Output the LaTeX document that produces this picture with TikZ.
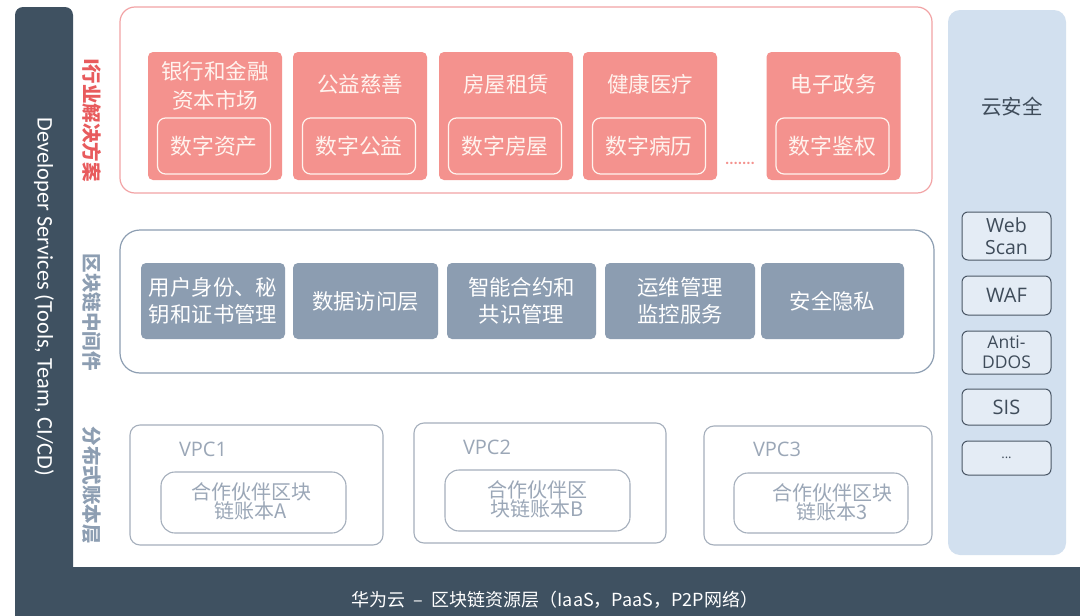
\documentclass[tikz,border=0pt]{standalone}
\usepackage{fontspec}
\setmainfont{Carlito}
\newfontfamily\cjk{Noto Sans CJK SC}
\newfontfamily\osans{Open Sans}
\definecolor{darkbar}{HTML}{3F5161}
\definecolor{pinkfill}{HTML}{F4928E}
\definecolor{pinkline}{HTML}{F2A3A5}
\definecolor{redlabel}{HTML}{E85B5D}
\definecolor{grayfill}{HTML}{8C9DB1}
\definecolor{graylabel}{HTML}{8D9EB2}
\definecolor{secblue}{HTML}{D2E0EF}
\definecolor{vpcline}{HTML}{A5AFBC}
\definecolor{vpctext}{HTML}{9BA7B7}
\definecolor{secline}{HTML}{4A5766}
\definecolor{sectext}{HTML}{3F4C5A}
\definecolor{cream}{HTML}{FFF3EE}
\tikzset{
  x=1pt, y=-1pt,
  box/.style={rectangle, inner sep=0pt, outer sep=0pt},
  pinkframe/.style={box, draw=pinkline, line width=1.2pt, rounded corners=15pt, fill=white},
  midframe/.style={box, draw=graylabel, line width=1.2pt, rounded corners=20pt, fill=white},
  pinkbox/.style={box, fill=pinkfill, rounded corners=5pt, minimum width=134, minimum height=128},
  pinktitle/.style={align=center, text=cream, font=\cjk\fontsize{21.5}{29}\selectfont},
  innerbox/.style={box, draw=cream, line width=1.2pt, rounded corners=8pt, minimum width=113, minimum height=56, text=cream, font=\cjk\fontsize{21.8}{24}\selectfont},
  graybox/.style={box, fill=grayfill, rounded corners=5pt, minimum height=76, align=center, text=white, font=\cjk\fontsize{21.4}{27}\selectfont},
  sidelabel/.style={rotate=-90, font=\cjk\bfseries\fontsize{19.5}{21}\selectfont},
  secitem/.style={box, draw=secline, line width=1pt, fill=secblue!60!white, rounded corners=6pt, minimum width=89, align=center, text=sectext, font=\osans\fontsize{20}{21}\selectfont},
  vpcbox/.style={box, draw=vpcline, line width=1.1pt, rounded corners=10pt},
  vpcinner/.style={box, draw=vpcline, line width=1.1pt, rounded corners=14pt},
  vpclabel/.style={text=vpctext, font=\osans\fontsize{20}{21}\selectfont},
  vpctxt/.style={align=center, text=vpctext, font=\cjk\fontsize{20}{19}\selectfont},
}
\begin{document}
\begin{tikzpicture}
\useasboundingbox[fill=white] (0,0) rectangle (1080,616);
% developer bar and base bar
\node[box, fill=darkbar, rounded corners=8pt, minimum width=58, minimum height=580, anchor=north west] (devbar) at (15,7) {};
\node[box, fill=darkbar, minimum width=1065, minimum height=49, anchor=north west] (base) at (15,567) {};
\node[rotate=-90, text=white, font=\fontsize{22.3}{22}\selectfont] (devtext) at (44,297) {Developer Services (Tools, Team, CI/CD)};
\node[text=white, font=\cjk\fontsize{18}{18}\selectfont] (basetext) at (555,600) {华为云 ~–~ 区块链资源层（IaaS，PaaS，P2P网络）};

% industry solutions
\node[pinkframe, minimum width=812, minimum height=186, anchor=north west] (pframe) at (120,7) {};
\node[sidelabel, text=redlabel] (lab1) at (92,120) {I行业解决方案};
\foreach \n/\cx/\inner in {1/215/数字资产, 2/360/数字公益, 3/506/数字房屋, 4/650/数字病历, 5/833.5/数字鉴权}{
  \node[pinkbox] (b\n) at (\cx,116) {};
  \node[innerbox] (d\n) at (\cx-1,146) {\inner};
}
\node[pinktitle] (t1) at (215,86) {银行和金融\\资本市场};
\node[pinktitle] (t2) at (360,84) {公益慈善};
\node[pinktitle] (t3) at (506,84) {房屋租赁};
\node[pinktitle] (t4) at (650,84) {健康医疗};
\node[pinktitle] (t5) at (833.5,84) {电子政务};
\node[text=pinkfill, font=\fontsize{16}{16}\selectfont\bfseries] (dots) at (740,163) {.......};

% middleware
\node[midframe, minimum width=814, minimum height=143, anchor=north west] (mframe) at (120,230) {};
\node[sidelabel, text=graylabel] (lab2) at (92,312) {区块链中间件};
\node[graybox, minimum width=144] (m1) at (213,301) {用户身份、秘\\钥和证书管理};
\node[graybox, minimum width=145] (m2) at (365.5,301) {数据访问层};
\node[graybox, minimum width=149] (m3) at (521.5,301) {智能合约和\\共识管理};
\node[graybox, minimum width=150] (m4) at (680,301) {运维管理\\监控服务};
\node[graybox, minimum width=143] (m5) at (832.5,301) {安全隐私};

% ledger layer
\node[sidelabel, text=graylabel] (lab3) at (92,485) {分布式账本层};
\node[vpcbox, minimum width=253, minimum height=120] (v1) at (256.5,485) {};
\node[vpcbox, minimum width=252, minimum height=120] (v2) at (540,483) {};
\node[vpcbox, minimum width=228, minimum height=119] (v3) at (818,485.5) {};
\node[vpcinner, minimum width=185, minimum height=61] (l1) at (253.5,502.5) {};
\node[vpcinner, minimum width=185, minimum height=61] (l2) at (537.5,500.5) {};
\node[vpcinner, minimum width=174, minimum height=60] (l3) at (821,503) {};
\node[vpclabel] (vl1) at (203,449) {VPC1};
\node[vpclabel] (vl2) at (487,447) {VPC2};
\node[vpclabel] (vl3) at (777,449) {VPC3};
\node[vpctxt] (lt1) at (251,501) {合作伙伴区块\\链账本A};
\node[vpctxt] (lt2) at (537,499) {合作伙伴区\\块链账本B};
\node[vpctxt] (lt3) at (832,502) {合作伙伴区块\\链账本3};

% cloud security
\node[box, fill=secblue, rounded corners=12pt, minimum width=118, minimum height=545] (sec) at (1007,282.5) {};
\node[text=sectext, font=\cjk\fontsize{20.5}{20}\selectfont] (sectitle) at (1012,107) {云安全};
\node[secitem, minimum height=48, font=\osans\fontsize{19.5}{22}\selectfont] (s1) at (1006.5,236) {Web\\Scan};
\node[secitem, minimum height=39] (s2) at (1006.5,295.5) {WAF};
\node[secitem, minimum height=43, font=\osans\fontsize{17.5}{20}\selectfont] (s3) at (1006.5,352.5) {Anti-\\DDOS};
\node[secitem, minimum height=36] (s4) at (1006.5,407) {SIS};
\node[secitem, minimum height=34, font=\osans\fontsize{13}{14}\selectfont] (s5) at (1006.5,458) {...};
\end{tikzpicture}
\end{document}
